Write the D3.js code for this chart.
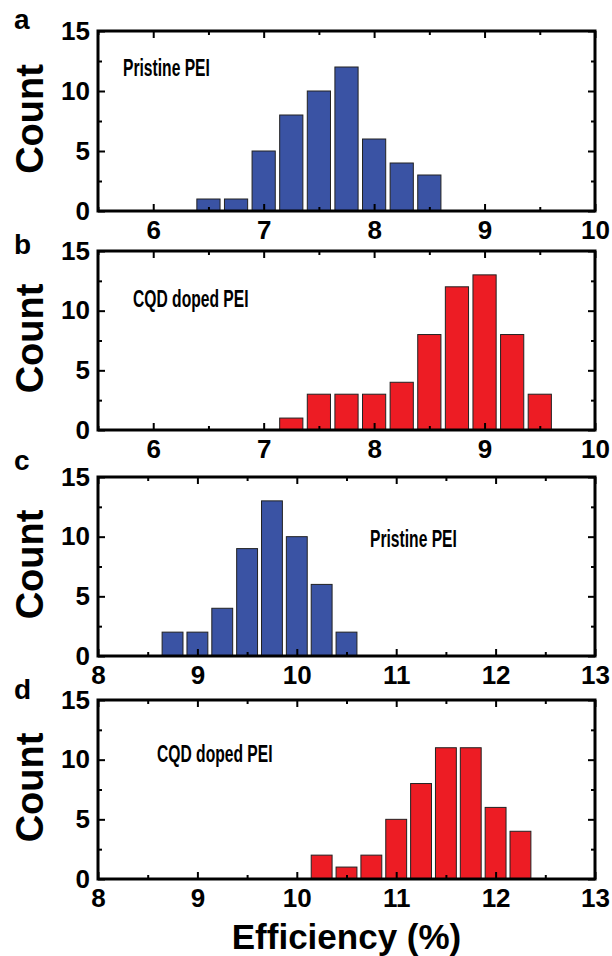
<!DOCTYPE html>
<html>
<head>
<meta charset="utf-8">
<script src="https://cdn.jsdelivr.net/npm/d3@7/dist/d3.min.js"></script>
<style>
	body { margin: 0; background: #fff; }
	svg { display: block; }
	text { font-family: "Liberation Sans", Arial, sans-serif; font-weight: bold; fill: #000; }
</style>
</head>
<body>
<svg id="fig" width="612" height="956"></svg>
<script>
// histogram data (bin centres, counts)
var binsA = [6.5, 6.75, 7.0, 7.25, 7.5, 7.75, 8.0, 8.25, 8.5];
var countsA = [1, 1, 5, 8, 10, 12, 6, 4, 3];
var binsB = [7.25, 7.5, 7.75, 8.0, 8.25, 8.5, 8.75, 9.0, 9.25, 9.5];
var countsB = [1, 3, 3, 3, 4, 8, 12, 13, 8, 3];
var binsC = [8.75, 9.0, 9.25, 9.5, 9.75, 10.0, 10.25, 10.5];
var countsC = [2, 2, 4, 9, 13, 10, 6, 2];
var binsD = [10.25, 10.5, 10.75, 11.0, 11.25, 11.5, 11.75, 12.0, 12.25];
var countsD = [2, 1, 2, 5, 8, 11, 11, 6, 4];

var xTicksAB = [6, 7, 8, 9, 10];
var xTicksCD = [8, 9, 10, 11, 12, 13];
var yTicks = [0, 5, 10, 15];
var yMinor = [2.5, 7.5, 12.5];

var blue = "#3a53a4",
	red = "#ed1c24";

var panels = [
	{ id: "a", bins: binsA, counts: countsA, domain: [5.5, 10], ticks: xTicksAB, top: 31, bottom: 211, color: blue, note: "Pristine PEI", nx: 123, ny: 76, ly: 29 },
	{ id: "b", bins: binsB, counts: countsB, domain: [5.5, 10], ticks: xTicksAB, top: 251, bottom: 430, color: red, note: "CQD doped PEI", nx: 133, ny: 307, ly: 254 },
	{ id: "c", bins: binsC, counts: countsC, domain: [8, 13], ticks: xTicksCD, top: 477, bottom: 656, color: blue, note: "Pristine PEI", nx: 370, ny: 547, ly: 470 },
	{ id: "d", bins: binsD, counts: countsD, domain: [8, 13], ticks: xTicksCD, top: 700, bottom: 879, color: red, note: "CQD doped PEI", nx: 157, ny: 762, ly: 699 }
];

var svg = d3.select("#fig");
var left = 98, right = 595;
var binWidth = 0.21;

panels.forEach(function(p) {
	var g = svg.append("g").attr("class", "panel_" + p.id);
	var x = d3.scaleLinear().domain(p.domain).range([left, right]);
	var y = d3.scaleLinear().domain([0, 15]).range([p.bottom, p.top]);

	var minorX = d3.range(p.domain[0], p.domain[1] + 0.01, 0.5).filter(function(v) {
		return p.ticks.indexOf(v) < 0;
	});

	// bars
	g.selectAll("rect.bar").data(p.bins).enter()
		.append("rect")
		.attr("class", "bar")
		.attr("x", function(d) { return x(d - binWidth / 2); })
		.attr("width", function(d) { return x(d + binWidth / 2) - x(d - binWidth / 2); })
		.attr("y", function(d, i) { return y(p.counts[i]); })
		.attr("height", function(d, i) { return y(0) - y(p.counts[i]); })
		.attr("fill", p.color)
		.attr("stroke", "#222")
		.attr("stroke-width", 1);

	// axes, ticks pointing inward on all four sides
	function styleAxis(sel) {
		sel.select(".domain").remove();
		sel.selectAll("line").attr("stroke", "#000").attr("stroke-width", 2);
		sel.selectAll("text").style("font-size", "26px").style("font-family", null);
	}
	g.append("g").attr("transform", "translate(0," + p.bottom + ")")
		.call(d3.axisBottom(x).tickValues(p.ticks).tickSize(-7).tickPadding(10).tickFormat(d3.format("d")))
		.call(styleAxis);
	g.append("g").attr("transform", "translate(0," + p.bottom + ")")
		.call(d3.axisBottom(x).tickValues(minorX).tickSize(-4).tickFormat(""))
		.call(styleAxis);
	g.append("g").attr("transform", "translate(0," + p.top + ")")
		.call(d3.axisTop(x).tickValues(p.ticks).tickSize(-7).tickFormat(""))
		.call(styleAxis);
	g.append("g").attr("transform", "translate(0," + p.top + ")")
		.call(d3.axisTop(x).tickValues(minorX).tickSize(-4).tickFormat(""))
		.call(styleAxis);
	g.append("g").attr("transform", "translate(" + left + ",0)")
		.call(d3.axisLeft(y).tickValues(yTicks).tickSize(-7).tickPadding(8))
		.call(styleAxis);
	g.append("g").attr("transform", "translate(" + left + ",0)")
		.call(d3.axisLeft(y).tickValues(yMinor).tickSize(-4).tickFormat(""))
		.call(styleAxis);
	g.append("g").attr("transform", "translate(" + right + ",0)")
		.call(d3.axisRight(y).tickValues(yTicks).tickSize(-7).tickFormat(""))
		.call(styleAxis);
	g.append("g").attr("transform", "translate(" + right + ",0)")
		.call(d3.axisRight(y).tickValues(yMinor).tickSize(-4).tickFormat(""))
		.call(styleAxis);

	// frame
	g.append("rect")
		.attr("x", left).attr("y", p.top)
		.attr("width", right - left).attr("height", p.bottom - p.top)
		.attr("fill", "none")
		.attr("stroke", "#000")
		.attr("stroke-width", 3);

	// labels (annotation set in a condensed face, so squeeze it)
	g.append("text")
		.attr("transform", "translate(" + p.nx + "," + p.ny + ") scale(0.68,1)")
		.style("font-size", "23px")
		.text(p.note);
	g.append("text")
		.attr("x", 14).attr("y", p.ly)
		.style("font-size", "28px")
		.text(p.id);
	g.append("text")
		.attr("transform", "translate(43," + ((p.top + p.bottom) / 2 - 2) + ") rotate(-90)")
		.attr("text-anchor", "middle")
		.style("font-size", "38px")
		.text("Count");
});

svg.append("text")
	.attr("x", (left + right) / 2)
	.attr("y", 949)
	.attr("text-anchor", "middle")
	.style("font-size", "35px")
	.text("Efficiency (%)");
</script>
</body>
</html>
